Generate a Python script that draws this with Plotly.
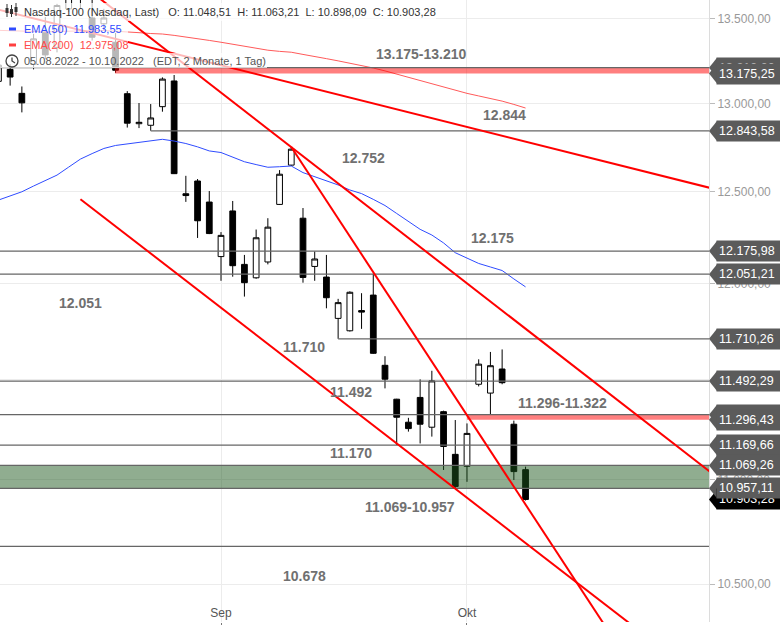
import math
import plotly.graph_objects as go

# ---------------- data ----------------
dates = ["05.08.", "08.08.", "09.08.", "10.08.", "11.08.", "12.08.", "15.08.", "16.08.", "17.08.", "18.08.",
         "19.08.", "22.08.", "23.08.", "24.08.", "25.08.", "26.08.", "29.08.", "30.08.", "31.08.",
         "01.09.", "02.09.", "06.09.", "07.09.", "08.09.", "09.09.", "12.09.", "13.09.", "14.09.", "15.09.",
         "16.09.", "19.09.", "20.09.", "21.09.", "22.09.", "23.09.", "26.09.", "27.09.", "28.09.", "29.09.",
         "30.09.", "03.10.", "04.10.", "05.10.", "06.10.", "07.10.", "10.10."]
open_ = [13130, 13200, 13060, 13230, 13420, 13330, 13560, 13630, 13505, 13470,
         13360, 13058, 12885, 12876, 12983, 13132, 12490, 12561, 12444,
         12146, 12395, 12104, 12032, 12117, 12431, 12650, 12355, 12093, 12036,
         11817, 11752, 11858, 11940, 11573, 11400, 11284, 11409, 11259, 11337,
         11124, 11065, 11476, 11431, 11554, 11274, 11048.51]
high = [13240, 13230, 13100, 13410, 13510, 13590, 13680, 13720, 13620, 13560,
        13415, 13073, 13004, 12998, 13153, 13167, 12590, 12572, 12505,
        12279, 12450, 12155, 12293, 12355, 12622, 12752, 12411, 12174, 12155,
        11920, 11960, 11950, 12054, 11620, 11402, 11306, 11501, 11545, 11342,
        11295, 11278, 11604, 11642, 11655, 11292, 11063.21]
low = [13090, 13105, 12950, 13200, 13260, 13300, 13540, 13560, 13370, 13430,
       13180, 12863, 12860, 12845, 12954, 12600, 12445, 12247, 12268,
       12016, 12038, 11932, 12027, 12104, 12428, 12645, 12006, 12016, 11870,
       11710.26, 11748, 11762, 11632, 11455, 11170, 11237, 11178, 11212, 11047,
       10957.11, 10989, 11465, 11321, 11476, 10998, 10898.09]
close = [13225, 13155, 13005, 13380, 13285, 13580, 13660, 13640, 13390, 13505,
         13195, 12888, 12893, 12918, 13143, 12602, 12480, 12341, 12271,
         12261, 12097, 12006, 12248, 12306, 12599, 12740, 12034, 12133, 11926,
         11900, 11955, 11850, 11635, 11502, 11309, 11252, 11274, 11493, 11163,
         10966, 11228, 11579, 11571, 11484, 11039, 10903.28]
ema50 = [12455, 12478, 12501, 12533, 12564, 12594, 12639, 12684, 12715, 12744,
         12761, 12769, 12776, 12786, 12796, 12786, 12772, 12753, 12730,
         12721, 12694, 12669, 12653, 12638, 12641, 12645, 12608, 12585, 12565,
         12539, 12511, 12491, 12459, 12425, 12381, 12337, 12294, 12263, 12220,
         12167, 12136, 12109, 12090, 12071, 12026, 11983.55]
ema200 = [13431, 13428, 13424, 13423, 13422, 13424, 13427, 13429, 13429, 13430,
          13427, 13422, 13417, 13412, 13409, 13401, 13392, 13382, 13371,
          13360, 13348, 13334, 13323, 13313, 13306, 13301, 13288, 13277, 13263,
          13250, 13237, 13224, 13208, 13191, 13172, 13153, 13135, 13119, 13099,
          13078, 13060, 13045, 13031, 13015, 12996, 12975.08]

month_ticks = [19, 40]
month_labels = ["Sep", "Okt"]
y_ticks = [10500, 11000, 11500, 12000, 12500, 13000, 13500]

# support / resistance levels (price, first trading-day index of the line)
levels = [13210.00, 12843.58, 12175.98, 12051.21, 11710.26, 11492.29, 11322.00,
          11169.66, 11069.26, 10957.11, 10678.02]
level_from = [None, 13, None, None, 29, None, None, None, None, None, None]
red_zones = [(13175.25, 13210.00, 9.95), (11296.43, 11322.00, 40)]
green_zone = (10957.11, 11069.26)

# right-side price tags (drawn in this order)
tags = [13210.00, 13175.25, 12843.58, 12175.98, 12051.21, 11710.26, 11492.29,
        11322.00, 11296.43, 11169.66, 11069.26, 10903.28, 10957.11]
last_price = 10903.28

# trend lines: two points (trading-day index, price) + extent in index units
trend_lines = [
    ((25, 12752), (60.66, 11042), 0.0, 61),    # upper falling channel line
    ((25, 12752), (39.15, 11396), 25, 56),     # steep line from the Sep high
    ((25.74, 13108), (60.66, 12524), 0.0, 61), # long resistance line
    ((7.0, 12460), (53.74, 10325), 7.0, 56),   # lower channel line
]

# text labels in the plot: (text, x px, y px)
zone_labels = [("13.175-13.210", 421, 54), ("12.844", 504, 115), ("12.752", 363, 158),
               ("12.175", 492, 238), ("12.051", 80, 303), ("11.710", 304, 347),
               ("11.492", 351, 392), ("11.296-11.322", 562, 403), ("11.170", 351, 453),
               ("11.069-10.957", 410, 507), ("10.678", 304, 576)]

# ---------------- helpers ----------------
PW, PH = 709.0, 622.0
X0, X1 = 0.134, 60.66
Y0, Y1 = 10325.2, 13613.3


def de(v):
    s = f"{v:,.2f}"
    return s.replace(",", "X").replace(".", ",").replace("X", ".")


def px(x):
    return x / PW


def py(y):
    return 1 - y / PH


def extend(p1, p2, xa):
    (xa1, ya1), (xa2, ya2) = p1, p2
    m = (math.log10(ya2) - math.log10(ya1)) / (xa2 - xa1)
    return 10 ** (math.log10(ya1) + m * (xa - xa1))


idx = list(range(len(dates)))

fig = go.Figure()
fig.add_trace(go.Candlestick(
    x=idx, open=open_, high=high, low=low, close=close,
    increasing=dict(line=dict(color="black", width=1), fillcolor="white"),
    decreasing=dict(line=dict(color="black", width=1), fillcolor="black"),
    whiskerwidth=0, hoverinfo="skip", showlegend=False))
fig.add_trace(go.Scatter(x=idx, y=ema50, mode="lines", line=dict(color="#2f4cff", width=1),
                         hoverinfo="skip", showlegend=False))
fig.add_trace(go.Scatter(x=idx, y=ema200, mode="lines", line=dict(color="#ff5a5a", width=1),
                         hoverinfo="skip", showlegend=False))

shapes = []
# zones
for lo, hi, start in red_zones:
    shapes.append(dict(type="rect", xref="x", yref="y", x0=start, x1=X1, y0=lo, y1=hi,
                       fillcolor="rgba(255,0,0,0.5)", line=dict(width=0), layer="above"))
shapes.append(dict(type="rect", xref="x", yref="y", x0=X0, x1=X1, y0=green_zone[0], y1=green_zone[1],
                   fillcolor="rgba(28,88,28,0.49)", line=dict(width=0), layer="above"))
# level lines
for lv, st in zip(levels, level_from):
    shapes.append(dict(type="line", xref="x", yref="y", x0=X0 if st is None else st, x1=X1,
                       y0=lv, y1=lv, line=dict(color="#666666", width=1.2), layer="above"))
# trend lines
for p1, p2, xa, xb in trend_lines:
    shapes.append(dict(type="line", xref="x", yref="y", x0=xa, x1=xb,
                       y0=extend(p1, p2, xa), y1=extend(p1, p2, xb),
                       line=dict(color="#ff0000", width=2), layer="above"))
# legend veil
shapes.append(dict(type="rect", xref="paper", yref="paper", x0=0, x1=px(128), y0=py(68), y1=py(3),
                   fillcolor="rgba(255,255,255,0.72)", line=dict(width=0), layer="above"))
shapes.append(dict(type="rect", xref="paper", yref="paper", x0=px(128), x1=px(436), y0=py(21), y1=py(3),
                   fillcolor="rgba(255,255,255,0.72)", line=dict(width=0), layer="above"))
shapes.append(dict(type="rect", xref="paper", yref="paper", x0=px(128), x1=px(267), y0=py(68), y1=py(53),
                   fillcolor="rgba(255,255,255,0.72)", line=dict(width=0), layer="above"))
# legend markers
shapes.append(dict(type="line", xref="paper", yref="paper", x0=px(9), x1=px(16), y0=py(29), y1=py(29),
                   line=dict(color="#2f4cff", width=3), layer="above"))
shapes.append(dict(type="line", xref="paper", yref="paper", x0=px(9), x1=px(16), y0=py(45), y1=py(45),
                   line=dict(color="#ff4040", width=3), layer="above"))
for cx, top, bot, b0, b1 in [(7, 4, 17, 8, 13), (11.5, 5, 17, 9, 14), (16, 3, 16, 7, 12)]:
    shapes.append(dict(type="line", xref="paper", yref="paper", x0=px(cx), x1=px(cx), y0=py(bot), y1=py(top),
                       line=dict(color="#333", width=1), layer="above"))
    shapes.append(dict(type="rect", xref="paper", yref="paper", x0=px(cx - 1.5), x1=px(cx + 1.5), y0=py(b1), y1=py(b0),
                       fillcolor="#333", line=dict(width=0), layer="above"))
shapes.append(dict(type="circle", xref="paper", yref="paper", x0=px(6), x1=px(18), y0=py(67), y1=py(55),
                   line=dict(color="#444", width=1.3), layer="above"))
shapes.append(dict(type="path", xref="paper", yref="paper",
                   path=f"M{px(12)},{py(57.5)} L{px(12)},{py(61)} L{px(15)},{py(63)}",
                   line=dict(color="#444", width=1.3), layer="above"))
# tag arrow tips
for t in tags:
    col = "#000000" if t == last_price else "#5b5b5b"
    shapes.append(dict(type="path", xref="paper", yref="y", xsizemode="pixel", ysizemode="pixel",
                       xanchor=1, yanchor=t, path="M0,0 L8,10 L8,-10 Z",
                       fillcolor=col, line=dict(width=0), layer="above"))

annotations = []
for t in tags:
    col = "#000000" if t == last_price else "#5b5b5b"
    annotations.append(dict(xref="paper", yref="y", x=1, y=math.log10(t), xanchor="left", yanchor="middle",
                            xshift=7, text=de(t), showarrow=False, bgcolor=col, width=66, height=16,
                            borderpad=2, align="left", font=dict(color="white", size=12.5)))
for txt, x, y in zone_labels:
    annotations.append(dict(xref="paper", yref="paper", x=px(x), y=py(y), xanchor="center", yanchor="middle",
                            text=f"<b>{txt}</b>", showarrow=False, font=dict(color="#707070", size=14)))
nb = "\u00a0"
legend_rows = [
    (f"Nasdaq-100 (Nasdaq, Last){nb*3}O: {de(open_[-1])}{nb*2}H: {de(high[-1])}{nb*2}L: {de(low[-1])}{nb*2}C: {de(close[-1])}", 12, "#333333"),
    (f"EMA(50){nb*2}{de(ema50[-1])}", 29, "#2f4cff"),
    (f"EMA(200){nb*2}{de(ema200[-1])}", 45, "#ff4a4a"),
    (f"05.08.2022 - 10.10.2022{nb*3}(EDT, 2 Monate, 1 Tag)", 61, "#555555"),
]
for txt, y, col in legend_rows:
    annotations.append(dict(xref="paper", yref="paper", x=px(22), y=py(y), xanchor="left", yanchor="middle",
                            text=txt, showarrow=False, font=dict(color=col, size=11)))

fig.update_layout(
    width=780, height=625, margin=dict(l=0, r=71, t=0, b=3),
    paper_bgcolor="white", plot_bgcolor="white", showlegend=False, separators=",.",
    font=dict(family="Liberation Sans, Arial, sans-serif", size=12, color="#555"),
    shapes=shapes, annotations=annotations, hovermode=False,
)
fig.update_xaxes(range=[X0, X1], tickmode="array", tickvals=month_ticks, ticktext=month_labels,
                 ticklabelposition="inside", ticks="outside", ticklen=3, tickcolor="#777",
                 showgrid=True, gridcolor="#ececec", zeroline=False, showline=False,
                 rangeslider_visible=False, tickfont=dict(size=12, color="#555"))
fig.update_yaxes(type="log", side="right", range=[math.log10(Y0), math.log10(Y1)],
                 tickmode="array", tickvals=y_ticks, ticktext=[de(v) for v in y_ticks],
                 ticks="outside", ticklen=5, tickcolor="#bbb", showgrid=True, gridcolor="#ececec",
                 showline=True, linecolor="#dcdcdc", zeroline=False, tickfont=dict(size=12, color="#999"))

fig.write_html("out.html", config={"displayModeBar": False},
               post_script="document.body.style.margin='0';document.body.style.overflow='hidden';")
